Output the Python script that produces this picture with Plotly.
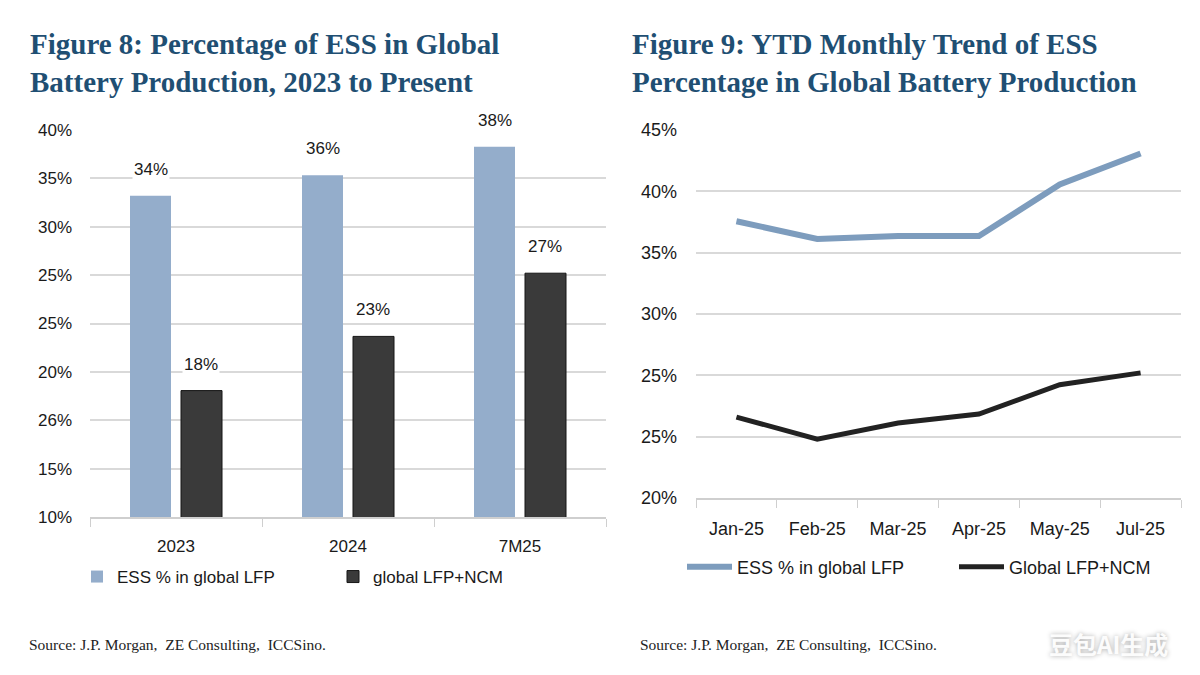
import plotly.graph_objects as go

# ---------------- data ----------------
bar_categories = ["2023", "2024", "7M25"]
ess_share = [34.9, 36.5, 38.7]          # bar heights
ess_labels = ["34%", "36%", "38%"]
total_share = [19.8, 24.0, 28.9]
total_labels = ["18%", "23%", "27%"]
bar_ytick_text = ["10%", "15%", "26%", "20%", "25%", "25%", "30%", "35%", "40%"]

months = ["Jan-25", "Feb-25", "Mar-25", "Apr-25", "May-25", "Jul-25"]
ess_monthly = [38.8, 37.6, 37.8, 37.8, 41.3, 43.4]
total_monthly = [25.5, 24.0, 25.1, 25.7, 27.7, 28.5]
line_ytick_text = ["20%", "25%", "25%", "30%", "35%", "40%", "45%"]

series_names = ["ESS % in global LFP", "global LFP+NCM", "Global LFP+NCM"]
titles = ["Figure 8: Percentage of ESS in Global<br>Battery Production, 2023 to Present",
          "Figure 9: YTD Monthly Trend of ESS<br>Percentage in Global Battery Production"]
source_text = "Source: J.P. Morgan,  ZE Consulting,  ICCSino."
watermark_text = "豆包AI生成"

# ---------------- styles ----------------
W, H = 1200, 675
SANS = "Liberation Sans Narrow, Arial Narrow, Liberation Sans, Arial, sans-serif"
SERIF = "Liberation Serif, Times New Roman, serif"
C_ESS_BAR = "#94adcb"
C_TOT_BAR = "#3a3a3a"
C_ESS_LINE = "#7d9cbd"
C_TOT_LINE = "#222222"
C_TITLE = "#1f4f73"
GRID = "#d9d9d9"
TXT = "#1a1a1a"

def px_y(p):
    return 1 - p / H

fig = go.Figure()

fig.add_trace(go.Bar(x=bar_categories, y=ess_share, name=series_names[0],
                     marker=dict(color=C_ESS_BAR, line=dict(width=0)),
                     xaxis="x", yaxis="y", legend="legend"))
fig.add_trace(go.Bar(x=bar_categories, y=total_share, name=series_names[1],
                     marker=dict(color=C_TOT_BAR, line=dict(color="#151515", width=1)),
                     xaxis="x", yaxis="y", legend="legend"))

fig.add_trace(go.Scatter(x=months, y=ess_monthly, name=series_names[0], mode="lines",
                         line=dict(color=C_ESS_LINE, width=6),
                         xaxis="x2", yaxis="y2", legend="legend2"))
fig.add_trace(go.Scatter(x=months, y=total_monthly, name=series_names[2], mode="lines",
                         line=dict(color=C_TOT_LINE, width=5),
                         xaxis="x2", yaxis="y2", legend="legend2"))

annotations = []
for i, (v, t) in enumerate(zip(ess_share, ess_labels)):
    annotations.append(dict(x=i, y=v, xref="x", yref="y", text=t, showarrow=False,
                            xshift=-25, yshift=15, yanchor="bottom", bgcolor="white",
                            font=dict(family=SANS, size=17, color=TXT)))
for i, (v, t) in enumerate(zip(total_share, total_labels)):
    annotations.append(dict(x=i, y=v, xref="x", yref="y", text=t, showarrow=False,
                            xshift=25, yshift=15, yanchor="bottom", bgcolor="white",
                            font=dict(family=SANS, size=17, color=TXT)))

for xpix, t in zip([28, 630], titles):
    annotations.append(dict(x=xpix / W, y=px_y(26), xref="paper", yref="paper", text=t,
                            showarrow=False, xanchor="left", yanchor="top", align="left",
                            font=dict(family=SERIF, size=29, color=C_TITLE, weight="bold")))
for xpix in [27, 638]:
    annotations.append(dict(x=xpix / W, y=px_y(644), xref="paper", yref="paper",
                            text=source_text, showarrow=False, xanchor="left",
                            yanchor="middle", font=dict(family=SERIF, size=15.5, color="#222")))
annotations.append(dict(x=1108 / W, y=px_y(643), xref="paper", yref="paper",
                        text=watermark_text, showarrow=False, xanchor="center",
                        yanchor="middle",
                        font=dict(family="Noto Sans CJK SC", size=24, weight="bold",
                                  color="rgba(255,255,255,0.95)",
                                  shadow="0px 0px 5px rgba(0,0,0,0.35)")))

font_l = dict(family=SANS, size=17, color=TXT)
font_r = dict(family=SANS, size=18, color=TXT)

fig.update_layout(
    width=W, height=H,
    margin=dict(l=0, r=0, t=0, b=0, autoexpand=False),
    paper_bgcolor="white", plot_bgcolor="white",
    barmode="group", bargap=0.407, bargroupgap=0.196,
    showlegend=True,
    xaxis=dict(domain=[90 / W, 606 / W], anchor="y", type="category",
               range=[-0.5, len(bar_categories) - 0.5], automargin=False,
               showline=True, linecolor="#cfcfcf", linewidth=1.5,
               ticks="outside", tickson="boundaries", ticklen=8, tickcolor="#cfcfcf",
               tickfont=font_l, ticklabelstandoff=13, showgrid=False),
    yaxis=dict(domain=[px_y(517), px_y(130)], anchor="x", range=[10, 40], automargin=False,
               tickvals=[10 + i * 3.75 for i in range(len(bar_ytick_text))],
               ticktext=bar_ytick_text, showgrid=True, gridcolor=GRID, gridwidth=1.5,
               zeroline=False, showline=False, ticks="", tickfont=font_l,
               ticklabelstandoff=17),
    xaxis2=dict(domain=[696 / W, 1181 / W], anchor="y2", type="category",
                range=[-0.5, len(months) - 0.5], automargin=False,
                showline=True, linecolor="#cfcfcf", linewidth=1.5,
                ticks="outside", tickson="boundaries", ticklen=8, tickcolor="#cfcfcf",
                tickfont=font_r, ticklabelstandoff=14, showgrid=False),
    yaxis2=dict(domain=[px_y(498), px_y(130)], anchor="x2", range=[20, 45], automargin=False,
                tickvals=[20 + i * 25 / 6 for i in range(len(line_ytick_text))],
                ticktext=line_ytick_text, showgrid=True, gridcolor=GRID, gridwidth=1.5,
                zeroline=False, showline=False, ticks="", tickfont=font_r,
                ticklabelstandoff=18),
    legend=dict(orientation="h", x=77 / W, y=px_y(577), xanchor="left", yanchor="middle",
                font=font_l, entrywidth=211, bgcolor="rgba(0,0,0,0)", itemwidth=30),
    legend2=dict(orientation="h", x=682 / W, y=px_y(567), xanchor="left", yanchor="middle",
                 font=font_r, entrywidth=212, bgcolor="rgba(0,0,0,0)", itemwidth=45),
    annotations=annotations,
)

fig.write_html("out.html")
